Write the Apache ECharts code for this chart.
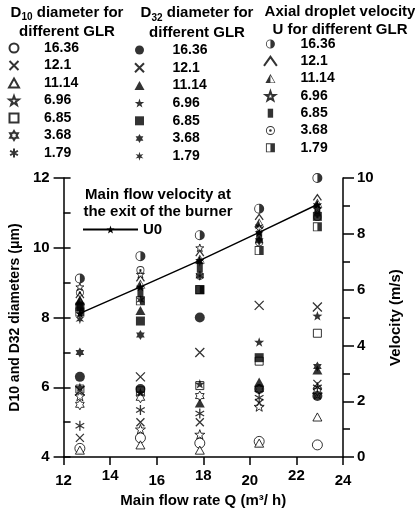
<!DOCTYPE html>
<html>
<head>
<meta charset="utf-8">
<script src="https://cdn.jsdelivr.net/npm/echarts@6/dist/echarts.min.js"></script>
<style>
  html, body { margin: 0; padding: 0; background: #fff; }
  #chart { width: 415px; height: 513px; }
</style>
</head>
<body>
<div id="chart"></div>
<script>
// flow rate Q (m3/h) of the five measurement columns
const flowRate = [12.7, 15.3, 17.85, 20.4, 22.9];
const glrLabels = ['16.36', '12.1', '11.14', '6.96', '6.85', '3.68', '1.79'];

// main flow velocity at burner exit (m/s)
const mainFlowU0 = [5.15, 6.1, 7.05, 8.05, 9.05];

// D10 (um), one row per GLR in glrLabels order
const d10 = [
  [4.25, 4.55, 4.4, 4.45, 4.35],
  [4.55, 5.0, 5.0, 5.55, 6.1],
  [4.2, 4.35, 4.2, 4.4, 5.15],
  [5.75, 4.8, 4.65, 5.45, 5.8],
  [5.95, 5.9, 6.05, 6.75, 7.55],
  [5.5, 5.7, 5.75, 5.95, 5.9],
  [4.9, 5.35, 5.25, 5.7, 6.0]
];

// D32 (um)
const d32 = [
  [6.3, 5.95, 8.0, 5.95, 5.75],
  [5.9, 6.3, 7.0, 8.35, 8.3],
  [8.5, 8.2, 5.55, 6.15, 6.5],
  [6.0, 5.85, 6.1, 7.3, 8.05],
  [8.3, 7.9, 8.8, 6.85, 10.9],
  [7.0, 7.5, 9.2, 10.2, 6.6],
  [7.95, 8.5, 9.6, 10.6, 11.2]
];

// axial droplet velocity U (m/s)
const dropletU = [
  [6.4, 7.2, 7.95, 8.9, 10.0],
  [5.8, 6.4, 7.3, 8.6, 9.3],
  [5.6, 6.2, 7.1, 8.4, 9.1],
  [6.1, 6.55, 7.5, 8.2, 8.9],
  [5.4, 5.9, 6.8, 7.9, 8.8],
  [5.9, 6.7, 6.5, 7.7, 8.6],
  [5.2, 5.6, 6.0, 7.4, 8.25]
];

const FONT = '"Liberation Sans", Arial, Helvetica, sans-serif';

// marker shapes
const CIRCLE = 'path://M10,0 A10,10 0 1,1 10,20 A10,10 0 1,1 10,0 Z';
const TRI = 'path://M10,0 L20,18 L0,18 Z';
const SQUARE = 'path://M0,0 L20,0 L20,20 L0,20 Z';
const CROSS = 'path://M0,0 L20,20 M20,0 L0,20';
const ASTER = 'path://M10,0 L10,20 M1.34,5 L18.66,15 M1.34,15 L18.66,5';
const CARET = 'path://M0,16 L10,2 L20,16';
const STAR = 'path://M10,0 L12.35,6.76 L19.51,6.91 L13.8,11.24 L15.88,18.09 L10,14 L4.12,18.09 L6.2,11.24 L0.49,6.91 L7.65,6.76 Z';
const HEX = 'path://M10,0 L12.89,5 L18.66,5 L15.77,10 L18.66,15 L12.89,15 L10,20 L7.11,15 L1.34,15 L4.23,10 L1.34,5 L7.11,5 Z';
const STAR6 = 'path://M10,0 L12,6.54 L18.66,5 L14,10 L18.66,15 L12,13.46 L10,20 L8,13.46 L1.34,15 L6,10 L1.34,5 L8,6.54 Z';
const HALF_CIRCLE = 'path://M10,0 A10,10 0 1,1 10,20 A10,10 0 1,1 10,0 Z M10,1.8 A8.2,8.2 0 1,0 10,18.2 A8.2,8.2 0 1,0 10,1.8 Z M10,1.8 A8.2,8.2 0 0,1 10,18.2 Z';
const HALF_TRI = 'path://M10,0 L20,18 L0,18 Z M10,3 L1.8,17 L18.2,17 Z M10,3 L10,17 L1.8,17 Z';
const HALF_SQUARE = 'path://M0,0 L20,0 L20,20 L0,20 Z M2,2 L2,18 L18,18 L18,2 Z M10,2 L18,2 L18,18 L10,18 Z';
const DOT_CIRCLE = 'path://M10,0 A10,10 0 1,1 10,20 A10,10 0 1,1 10,0 Z M10,2 A8,8 0 1,0 10,18 A8,8 0 1,0 10,2 Z M10,7 A3,3 0 1,1 10,13 A3,3 0 1,1 10,7 Z';
const TALL_RECT = 'path://M0,0 L6,0 L6,10 L0,10 Z';

const FILL = { color: '#000' };
const OPEN = { color: '#fff', borderColor: '#000', borderWidth: 1 };
const LINE = { color: 'rgba(0,0,0,0)', borderColor: '#000', borderWidth: 1.3 };

const d10Marks = [
  [CIRCLE, 10, OPEN], [CROSS, 8, LINE], [TRI, 9, OPEN], [STAR, 10, OPEN],
  [SQUARE, 8, OPEN], [HEX, 10, OPEN], [ASTER, 10, LINE]
];
const d32Marks = [
  [CIRCLE, 10, FILL], [CROSS, 9, LINE], [TRI, 10, FILL], [STAR, 10, FILL],
  [SQUARE, 9, FILL], [HEX, 10, FILL], [STAR6, 10, FILL]
];
const uMarks = [
  [HALF_CIRCLE, 10, FILL], [CARET, 8, LINE], [HALF_TRI, 10, FILL], [STAR, 8, OPEN],
  [TALL_RECT, 10, FILL], [DOT_CIRCLE, 8, FILL], [HALF_SQUARE, 9, FILL]
];

function pts(vals) {
  return vals.map((v, i) => [flowRate[i], v]);
}

function scatterGroup(prefix, table, marks, yAxisIndex) {
  return table.map((row, i) => ({
    name: prefix + ' ' + glrLabels[i],
    type: 'scatter',
    yAxisIndex: yAxisIndex,
    data: pts(row),
    symbol: marks[i][0],
    symbolSize: marks[i][1],
    symbolKeepAspect: true,
    itemStyle: marks[i][2]
  }));
}

const textBold = { color: '#000', fontFamily: FONT, fontWeight: 'bold', fontSize: 14 };

function glrLegend(prefix, left, top, itemWidth, gap) {
  return {
    orient: 'vertical', left: left, top: top, padding: 0,
    itemWidth: itemWidth, itemHeight: 9, itemGap: gap,
    selectedMode: false,
    data: glrLabels.map(g => prefix + ' ' + g),
    formatter: n => n.split(' ')[1],
    textStyle: Object.assign({ lineHeight: 14 }, textBold)
  };
}

function headRich(lh) {
  return {
    n: { fill: '#000', fontFamily: FONT, fontWeight: 'bold', fontSize: 15, lineHeight: lh },
    s: { fill: '#000', fontFamily: FONT, fontWeight: 'bold', fontSize: 10, lineHeight: 12, verticalAlign: 'bottom' }
  };
}

const chart = echarts.init(document.getElementById('chart'), null, { renderer: 'canvas' });

const option = {
  animation: false,
  backgroundColor: '#fff',
  grid: { left: 58, right: 72, top: 178, bottom: 55 },
  legend: [
    glrLegend('D10', 8, 41, 50, 3.5),
    glrLegend('D32', 134, 43, 56, 3.7),
    glrLegend('U', 263, 37, 50, 3.3),
    {
      left: 82, top: 222, padding: 0, itemWidth: 55, itemHeight: 10,
      selectedMode: false, data: ['U0'],
      textStyle: Object.assign({}, textBold, { fontSize: 15 })
    }
  ],
  graphic: [
    { type: 'text', x: 67, y: 3, style: { text: '{n|D}{s|10}{n| diameter for}\n{n|different GLR}', align: 'center', verticalAlign: 'top', rich: headRich(19) } },
    { type: 'text', x: 197, y: 3, style: { text: '{n|D}{s|32}{n| diameter for}\n{n|different GLR}', align: 'center', verticalAlign: 'top', rich: headRich(20) } },
    { type: 'text', x: 340, y: 3, style: { text: '{n|Axial droplet velocity}\n{n|U for different GLR}', align: 'center', verticalAlign: 'top', rich: headRich(18) } },
    { type: 'text', x: 158, y: 186, style: { text: '{n|Main flow velocity at}\n{n|the exit of the burner}', align: 'center', verticalAlign: 'top', rich: headRich(17) } }
  ],
  xAxis: {
    type: 'value', min: 12, max: 24, interval: 2,
    axisLine: { onZero: false, lineStyle: { color: '#000', width: 1.5 } },
    axisTick: { length: 8, lineStyle: { color: '#000', width: 1.5 } },
    splitLine: { show: false },
    axisLabel: {
      margin: 11,
      formatter: v => ([14, 18, 22].indexOf(v) >= 0 ? '{hi|' + v + '}' : '{lo|' + v + '}'),
      rich: {
        hi: { color: '#000', fontFamily: FONT, fontWeight: 'bold', fontSize: 15 },
        lo: { color: '#000', fontFamily: FONT, fontWeight: 'bold', fontSize: 15, padding: [5, 0, 0, 0] }
      }
    },
    name: 'Main flow rate Q (m³/ h)', nameLocation: 'middle', nameGap: 30,
    nameTextStyle: Object.assign({}, textBold, { fontSize: 15 })
  },
  yAxis: [
    {
      type: 'value', position: 'left', min: 4, max: 12, interval: 2,
      axisLine: { show: true, lineStyle: { color: '#000', width: 1.5 } },
      axisTick: { show: true, length: 10, lineStyle: { color: '#000', width: 1.5 } },
      splitLine: { show: false },
      axisLabel: { margin: 14, color: '#000', fontFamily: FONT, fontWeight: 'bold', fontSize: 15 },
      name: 'D10 and D32 diameters (μm)', nameLocation: 'middle', nameRotate: 90, nameGap: 33,
      nameTextStyle: textBold
    },
    {
      type: 'value', position: 'right', min: 0, max: 10, interval: 2,
      axisLine: { show: true, lineStyle: { color: '#000', width: 1.5 } },
      axisTick: { show: true, length: 11, lineStyle: { color: '#000', width: 1.5 } },
      minorTick: { show: true, splitNumber: 2, length: 7, lineStyle: { color: '#000', width: 1.5 } },
      splitLine: { show: false },
      axisLabel: { margin: 14, color: '#000', fontFamily: FONT, fontWeight: 'bold', fontSize: 15 },
      name: 'Velocity (m/s)', nameLocation: 'middle', nameRotate: 90, nameGap: 45,
      nameTextStyle: Object.assign({}, textBold, { fontSize: 15 })
    },
    {
      // inner minor ticks of the left axis
      type: 'value', position: 'left', min: 4, max: 12, interval: 1,
      axisLine: { show: false },
      axisTick: { show: true, inside: true, length: 7, lineStyle: { color: '#000', width: 1.5 } },
      axisLabel: { show: false },
      splitLine: { show: false }
    }
  ],
  series: [
    {
      name: 'U0', type: 'line', yAxisIndex: 1, data: pts(mainFlowU0),
      symbol: STAR, symbolSize: 9, symbolKeepAspect: true,
      lineStyle: { color: '#000', width: 1.5 },
      itemStyle: { color: '#000' }
    }
  ].concat(
    scatterGroup('D10', d10, d10Marks, 0),
    scatterGroup('D32', d32, d32Marks, 0),
    scatterGroup('U', dropletU, uMarks, 1)
  )
};

chart.setOption(option);
</script>
</body>
</html>
